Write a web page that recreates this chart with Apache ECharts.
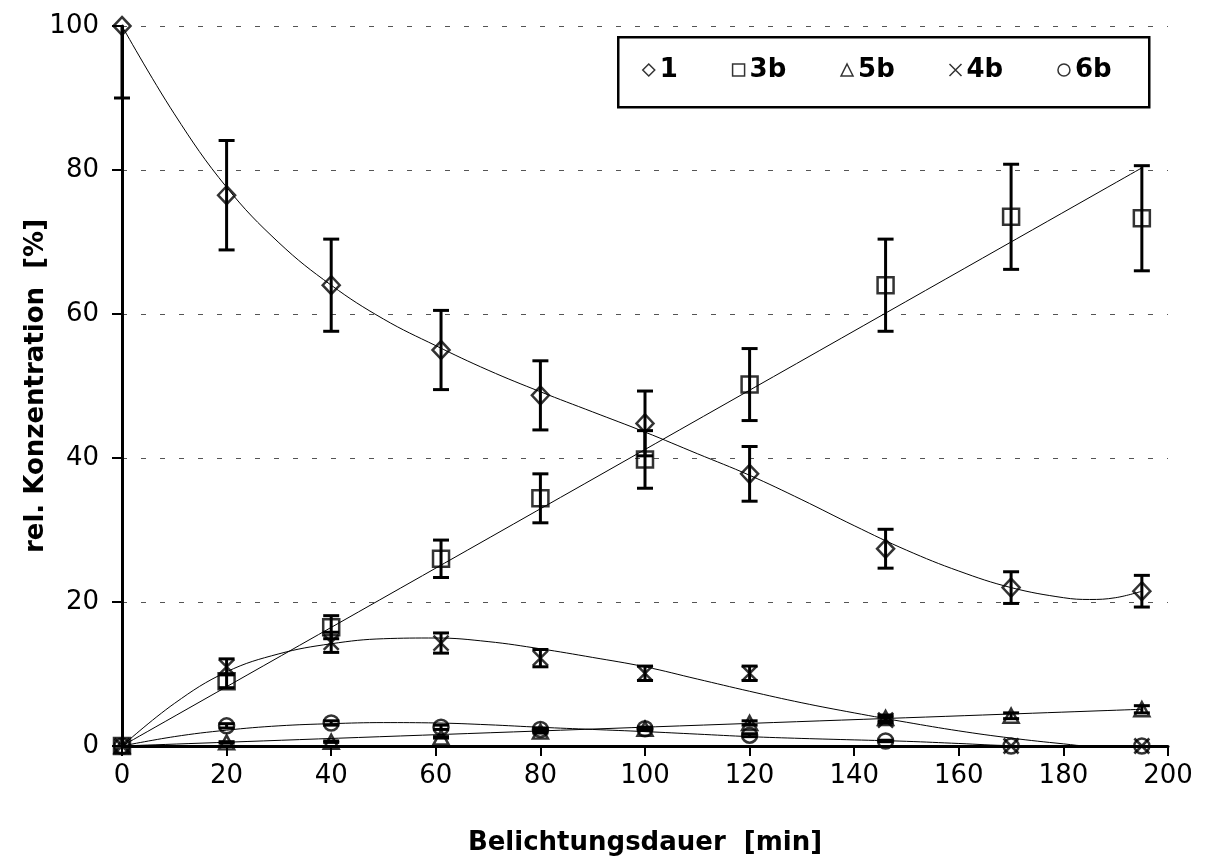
<!DOCTYPE html>
<html>
<head>
<meta charset="utf-8">
<script src="https://cdn.jsdelivr.net/npm/echarts@6/dist/echarts.min.js"></script>
<style>
html,body{margin:0;padding:0;background:#fff;}
#chart{width:1206px;height:868px;}
</style>
</head>
<body>
<div id="chart"></div>
<script>
// ---- data ----
const xValues = [0, 20, 40, 61, 80, 100, 120, 146, 170, 195];

const val1  = [100, 76.5, 64, 55, 48.7, 44.8, 37.8, 27.4, 22, 21.5];
const err1  = [10, 7.6, 6.4, 5.5, 4.8, 4.5, 3.8, 2.7, 2.2, 2.2];

const val3b = [0, 9, 16.5, 26, 34.4, 39.8, 50.2, 64, 73.5, 73.3];
const err3b = [0, 0.9, 1.6, 2.6, 3.4, 4.0, 5.0, 6.4, 7.3, 7.3];

const val5b = [0, 0.5, 0.6, 1.2, 2.0, 2.4, 3.2, 3.9, 4.2, 5.1];
const err5b = [0, 0.1, 0.1, 0.1, 0.2, 0.2, 0.3, 0.4, 0.4, 0.5];

const val4b = [0, 11, 14.4, 14.3, 12.2, 10.1, 10.1, 3.6, 0, 0];
const err4b = [0, 1.1, 1.4, 1.4, 1.2, 1.0, 1.0, 0.4, 0, 0];

const val6b = [0, 2.8, 3.2, 2.6, 2.3, 2.4, 1.5, 0.7, 0, 0];
const err6b = [0, 0.3, 0.3, 0.3, 0.2, 0.2, 0.2, 0.1, 0, 0];

// trend curves
const trendX   = [0, 10, 20, 30, 40, 50, 60, 70, 80, 90, 100, 110, 120, 130, 140, 150, 160, 170, 180, 185, 190, 195];
const trend1   = [100, 87.8, 77.6, 69.9, 64.0, 59.3, 55.6, 52.2, 49.2, 46.4, 43.6, 40.6, 37.6, 34.2, 30.6, 27.2, 24.3, 22.0, 20.6, 20.35, 20.6, 21.5];
const trend4b  = [0, 5.9, 10.3, 12.8, 14.2, 14.9, 15.0, 14.5, 13.5, 12.3, 11.0, 9.3, 7.6, 6.0, 4.6, 3.3, 2.1, 1.1, 0.3, 0, 0, 0];
const trend6b  = [0, 1.3, 2.2, 2.8, 3.1, 3.25, 3.2, 2.95, 2.6, 2.3, 2.0, 1.65, 1.3, 1.05, 0.85, 0.65, 0.35, 0.05, 0, 0, 0, 0];
const trend3bX = [0, 195];
const trend3b  = [0, 80.3];
const trend5bX = [0, 195];
const trend5b  = [0, 5.1];

const seriesNames = ['1', '3b', '5b', '4b', '6b'];
const xTicks = [0, 20, 40, 60, 80, 100, 120, 140, 160, 180, 200];
const yTicks = [0, 20, 40, 60, 80, 100];

// ---- build ----
const FONT = '"DejaVu Sans", "Liberation Sans", Arial, sans-serif';
const pairs = (xs, ys) => xs.map((x, i) => [x, ys[i]]);
const triples = (ys, es) => xValues.map((x, i) => [x, ys[i], es[i]]);

const symbols = {
  '1': 'diamond',
  '3b': 'rect',
  '5b': 'triangle',
  '4b': 'path://M0,0L10,10M10,0L0,10',
  '6b': 'circle'
};
const sizes = { '1': [17, 18], '3b': 16, '5b': [15, 14], '4b': 15, '6b': 15 };
const vals = { '1': val1, '3b': val3b, '5b': val5b, '4b': val4b, '6b': val6b };
const errs = { '1': err1, '3b': err3b, '5b': err5b, '4b': err4b, '6b': err6b };

function errRender(params, api) {
  const x = api.value(0), y = api.value(1), e = api.value(2);
  if (!e) return null;
  const yMax = 100, yMin = 0;
  const hi = Math.min(y + e, yMax), lo = Math.max(y - e, yMin);
  const pt = api.coord([x, hi]);
  const pb = api.coord([x, lo]);
  const hw = 8;
  const style = { stroke: '#000', lineWidth: 3 };
  const ch = [{ type: 'line', shape: { x1: pt[0], y1: pt[1], x2: pb[0], y2: pb[1] }, style }];
  if (y + e <= yMax) ch.push({ type: 'line', shape: { x1: pt[0] - hw, y1: pt[1], x2: pt[0] + hw, y2: pt[1] }, style });
  ch.push({ type: 'line', shape: { x1: pb[0] - hw, y1: pb[1], x2: pb[0] + hw, y2: pb[1] }, style });
  return { type: 'group', children: ch };
}

const series = [];
// trend lines
[[trendX, trend1], [trend3bX, trend3b], [trend5bX, trend5b], [trendX, trend4b], [trendX, trend6b]].forEach((t, i) => {
  series.push({
    type: 'line', name: 'trend' + i, data: pairs(t[0], t[1]),
    smooth: 0.4, showSymbol: false, symbol: 'none', silent: true, clip: true,
    lineStyle: { color: '#000', width: 1 }, z: 2
  });
});
// error bars
seriesNames.forEach(n => {
  series.push({
    type: 'custom', name: 'err' + n, data: triples(vals[n], errs[n]),
    renderItem: errRender, silent: true, z: 3,
    encode: { x: 0, y: 1 }
  });
});
// markers
seriesNames.forEach(n => {
  series.push({
    type: 'scatter', name: n, data: pairs(xValues, vals[n]),
    symbol: symbols[n], symbolSize: sizes[n],
    itemStyle: { color: 'rgba(0,0,0,0)', borderColor: '#000', borderWidth: 2.5 },
    z: 4
  });
});

const chart = echarts.init(document.getElementById('chart'), null, { renderer: 'canvas' });
chart.setOption({
  animation: false,
  backgroundColor: '#fff',
  textStyle: { fontFamily: FONT },
  grid: { left: 122, right: 38, top: 26, bottom: 122, containLabel: false },
  xAxis: {
    type: 'value', min: 0, max: 200, interval: 20,
    name: 'Belichtungsdauer  [min]', nameLocation: 'middle', nameGap: 84,
    nameMoveOverlap: false,
    nameTextStyle: { fontFamily: FONT, fontSize: 26, fontWeight: 'bold', color: '#000' },
    axisLine: { show: true, onZero: false, lineStyle: { color: '#000', width: 3 } },
    axisTick: { show: true, length: 10, lineStyle: { color: '#000', width: 2 } },
    axisLabel: { fontFamily: FONT, fontSize: 26, color: '#000', margin: 17,
      formatter: v => xTicks.includes(v) ? String(v) : '' },
    splitLine: { show: false }
  },
  yAxis: {
    type: 'value', min: 0, max: 100, interval: 20,
    name: 'rel. Konzentration  [%]', nameLocation: 'middle', nameGap: 73,
    nameMoveOverlap: false,
    nameTextStyle: { fontFamily: FONT, fontSize: 26, fontWeight: 'bold', color: '#000' },
    axisLine: { show: true, onZero: false, lineStyle: { color: '#000', width: 3 } },
    axisTick: { show: true, length: 10, lineStyle: { color: '#000', width: 2 } },
    axisLabel: { fontFamily: FONT, fontSize: 26, color: '#000', margin: 23,
      formatter: v => yTicks.includes(v) ? String(v) : '' },
    splitLine: { show: true, lineStyle: { color: '#555', width: 1, type: [5, 14] } }
  },
  legend: {
    data: seriesNames, left: 642, top: 57, orient: 'horizontal',
    itemWidth: 12, itemHeight: 12, itemGap: 54, padding: 0,
    itemStyle: { borderWidth: 1.5, color: 'rgba(0,0,0,0)', borderColor: '#000' },
    textStyle: { fontFamily: FONT, fontSize: 26, fontWeight: 'bold', color: '#000' },
    selectedMode: false
  },
  graphic: [{
    type: 'rect', left: 617, top: 36, z: 1,
    shape: { width: 531, height: 70 },
    style: { fill: '#fff', stroke: '#000', lineWidth: 2.5 }
  }],
  series
});
</script>
</body>
</html>
